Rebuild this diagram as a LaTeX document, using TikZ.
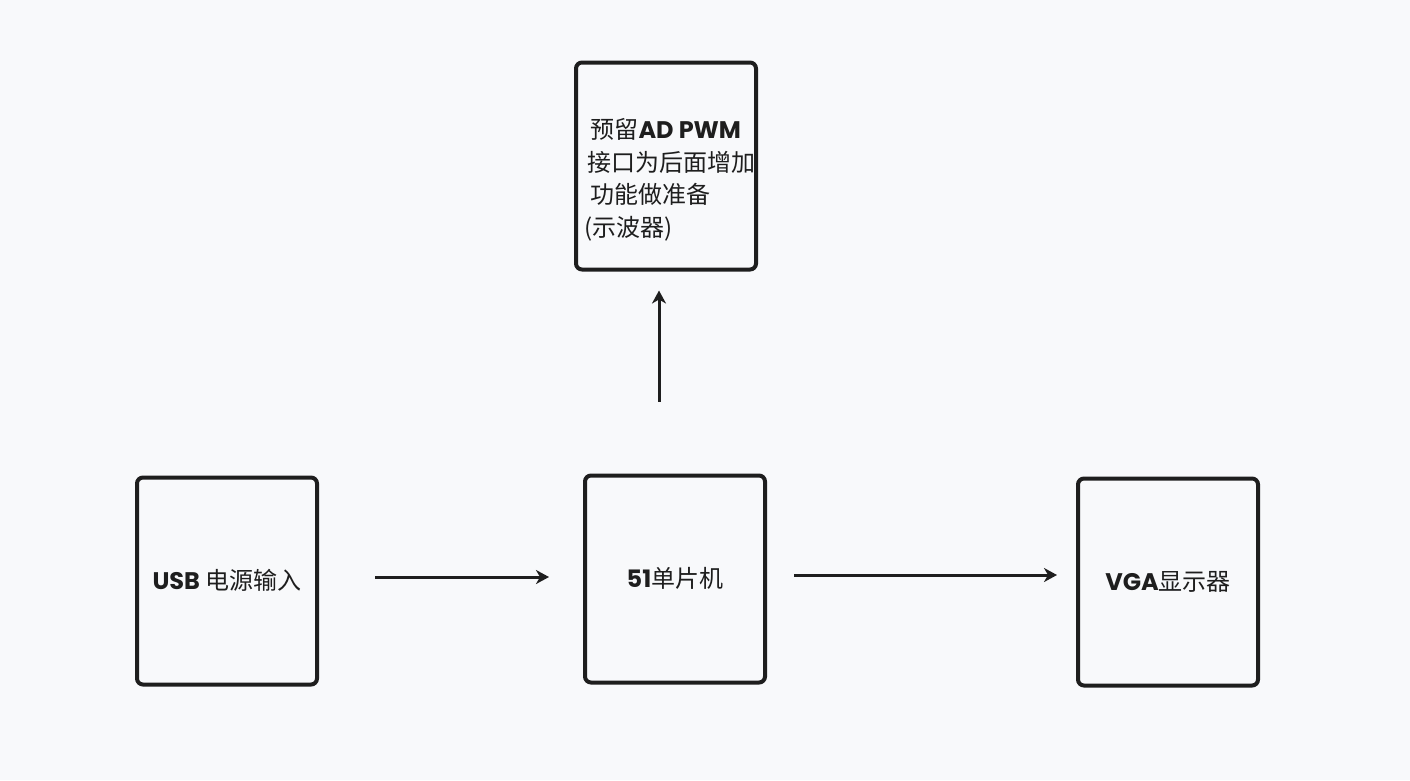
\documentclass[tikz,border=0pt]{standalone}
\usepackage{fontspec}
\setmainfont{Noto Sans CJK SC}
\newfontfamily\hand{Poppins}
\usetikzlibrary{arrows.meta, positioning}
\definecolor{ink}{HTML}{1E1E1E}
\definecolor{paper}{HTML}{F8F9FB}
\newcommand{\lat}[1]{{\hand\bfseries #1}}
\newcommand{\up}[1]{\raisebox{3pt}{#1}}
\tikzset{
  blk/.style={draw=ink, line width=4pt, rounded corners=6pt, minimum width=180pt, minimum height=207pt, text=ink, font=\fontsize{24}{32.5}\selectfont},
  flow/.style={draw=ink, line width=3pt, -{Stealth[length=13pt, width=14pt, inset=4pt]}}
}
\begin{document}
\begin{tikzpicture}[x=1pt, y=-1pt]
  \fill[paper] (0,0) rectangle (1410,780);
  \useasboundingbox (0,0) rectangle (1410,780);
  \node[blk] (usb) at (227,581) {\up{\lat{USB} 电源输入}};
  \node[blk] (mcu) at (675,579) {\up{\lat{51}单片机}};
  \node[blk] (vga) at (1168,582) {\up{\lat{VGA}显示器}};
  \node[blk] (ext) at (666,166) {};
  \node[anchor=west, align=left, text=ink, font=\fontsize{24}{32.5}\selectfont] (note) at (581,180)
    {\hspace{6pt}预留\lat{AD PWM}\\ \hspace{3pt}接口为后面增加\\ \hspace{6pt}功能做准备\\ (示波器)};
  \draw[flow, shorten <=56pt, shorten >=34pt] (usb.east |- 0,577) -- (mcu.west |- 0,577);
  \draw[flow, shorten <=27pt, shorten >=19pt] (mcu.east |- 0,575) -- (vga.west |- 0,575);
  \draw[flow, shorten <=72pt, shorten >=19pt] (mcu.north -| 659,0) -- (ext.south -| 659,0);
\end{tikzpicture}
\end{document}
